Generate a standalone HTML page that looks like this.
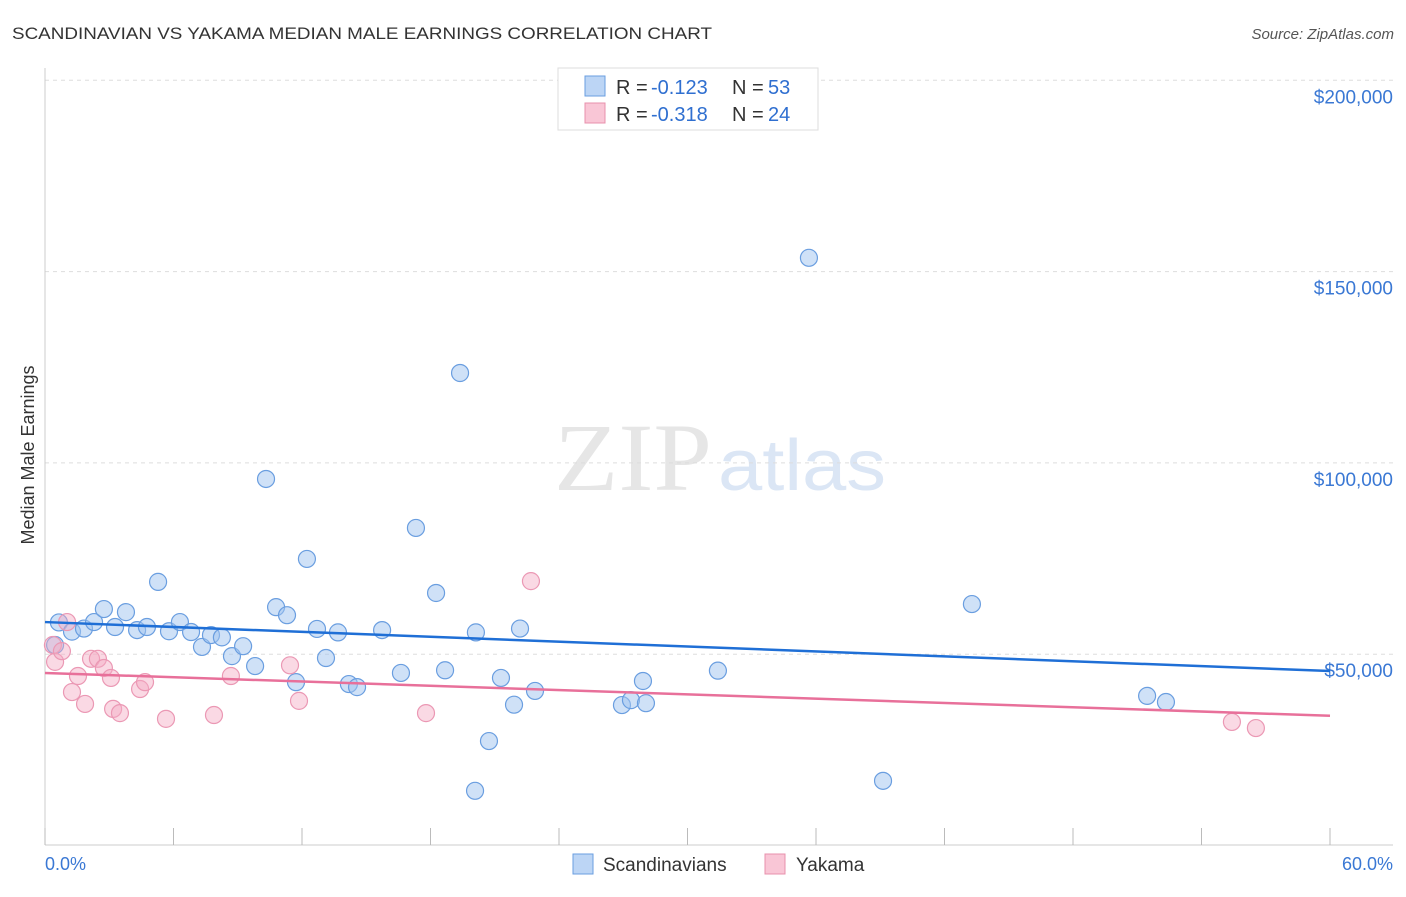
<!DOCTYPE html>
<html><head><meta charset="utf-8"><style>
body{margin:0;background:#fff;font-family:"Liberation Sans",sans-serif;}
</style></head><body>
<svg width="1406" height="892" xmlns="http://www.w3.org/2000/svg">
<text x="12" y="39" font-size="17" fill="#333" textLength="700" lengthAdjust="spacingAndGlyphs">SCANDINAVIAN VS YAKAMA MEDIAN MALE EARNINGS CORRELATION CHART</text>
<text x="1394" y="39" font-size="15" fill="#555" text-anchor="end" font-style="italic">Source: ZipAtlas.com</text>
<text x="554" y="490" font-size="96" fill="#e6e6e6" textLength="158" lengthAdjust="spacingAndGlyphs" font-family="Liberation Serif,serif">ZIP</text>
<text x="718" y="490" font-size="72" fill="#dbe6f5" textLength="168" lengthAdjust="spacingAndGlyphs">atlas</text>
<g id="grid"></g>
<line x1="45" y1="68" x2="45" y2="845" stroke="#ccc"/>
<line x1="45" y1="845" x2="1393" y2="845" stroke="#ccc"/>
<g id="xticks"></g>
<text x="34" y="455" font-size="18" fill="#333" text-anchor="middle" transform="rotate(-90 34 455)">Median Male Earnings</text>
<text x="45" y="870" font-size="18" fill="#3a78d4">0.0%</text>
<text x="1393" y="870" font-size="18" fill="#3a78d4" text-anchor="end">60.0%</text>
<g id="pts"></g>
<g id="lines"></g>
<g>
<rect x="558" y="68" width="260" height="62" fill="#fff" stroke="#ddd"/>
<rect x="585" y="76" width="20" height="20" fill="#bcd5f5" stroke="#6a9ee0"/>
<text x="616" y="94" font-size="20" fill="#333">R =</text>
<text x="651" y="94" font-size="20" fill="#2f6fd0">-0.123</text>
<text x="732" y="94" font-size="20" fill="#333">N =</text>
<text x="768" y="94" font-size="20" fill="#2f6fd0">53</text>
<rect x="585" y="103" width="20" height="20" fill="#f9c6d6" stroke="#e890ac"/>
<text x="616" y="121" font-size="20" fill="#333">R =</text>
<text x="651" y="121" font-size="20" fill="#2f6fd0">-0.318</text>
<text x="732" y="121" font-size="20" fill="#333">N =</text>
<text x="768" y="121" font-size="20" fill="#2f6fd0">24</text>
</g>
<g>
<rect x="573" y="854" width="20" height="20" fill="#bcd5f5" stroke="#6a9ee0"/>
<text x="603" y="871" font-size="19" fill="#333">Scandinavians</text>
<rect x="765" y="854" width="20" height="20" fill="#f9c6d6" stroke="#e890ac"/>
<text x="796" y="871" font-size="19" fill="#333">Yakama</text>
</g>
</svg>
<script>
const yTicks=[50000,100000,150000,200000];
const yTickLabels=["$50,000","$100,000","$150,000","$200,000"];
const xTicks=[0,6,12,18,24,30,36,42,48,54,60];
const blueX=[0.65,1.26,1.82,2.29,2.75,3.27,3.78,4.30,4.76,5.28,5.79,6.30,6.82,7.33,7.75,8.26,8.73,9.25,9.81,10.32,10.79,11.30,11.72,12.23,12.70,13.12,13.68,14.19,14.57,15.74,16.62,17.32,18.26,18.68,19.38,20.12,20.08,20.73,21.29,21.90,22.18,22.88,26.94,27.36,27.92,28.06,31.42,35.67,39.13,43.28,51.46,52.34,0.47];
const blueY=[58300,55900,56700,58400,61800,57100,61000,56300,57100,68900,56000,58400,55800,51900,55000,54400,49500,52100,46900,95800,62300,60200,42700,74900,56600,49000,55700,42200,41400,56300,45100,83000,66000,45800,123500,55700,14300,27300,43800,36800,56700,40400,36700,38000,43000,37200,45700,153600,16900,63100,39100,37500,52400];
const pinkX=[0.37,0.47,0.79,1.03,1.26,1.54,1.87,2.15,2.47,2.75,3.08,3.18,3.50,4.44,4.67,5.65,7.89,8.68,11.44,11.86,17.79,22.69,55.42,56.54];
const pinkY=[52400,48000,50800,58400,40100,44300,37000,48800,48800,46400,43800,35700,34600,40900,42700,33100,34100,44300,47100,37800,34600,69100,32300,30700];
const blueTrend=[58400,45600];
const pinkTrend=[45100,33900];
const NS="http://www.w3.org/2000/svg";
const sx=v=>45+v/60*1285;
const sy=v=>845.5-v/50000*191.3;
function mk(t,a,p){const e=document.createElementNS(NS,t);for(const k in a)e.setAttribute(k,a[k]);p.appendChild(e);return e;}
const grid=document.getElementById('grid');
yTicks.forEach((v,i)=>{
 const l=mk('line',{x1:45,x2:1393,y1:sy(v),y2:sy(v),stroke:'#ddd','stroke-dasharray':'4,4'},grid);
 
 
 const t=mk('text',{x:1393,y:sy(v)+23,'font-size':19,fill:'#3a78d4','text-anchor':'end'},grid);
 t.textContent=yTickLabels[i];
 
 
});
const xt=document.getElementById('xticks');
xTicks.forEach(v=>{
 const l=mk('line',{x1:sx(v),x2:sx(v),y1:828,y2:845,stroke:'#bbb'},xt);
 
 
});
const pts=document.getElementById('pts');
blueX.forEach((x,i)=>{
 const c=mk('circle',{cx:sx(x),cy:sy(blueY[i]),r:8.5,fill:'rgba(160,195,240,0.5)',stroke:'#6a9ee0','stroke-width':1.2},pts);
 
 
});
pinkX.forEach((x,i)=>{
 const c=mk('circle',{cx:sx(x),cy:sy(pinkY[i]),r:8.5,fill:'rgba(245,170,195,0.45)',stroke:'#eb98b4','stroke-width':1.2},pts);
 
 
});
const ln=document.getElementById('lines');
const b=mk('line',{x1:sx(0),x2:sx(60),y1:sy(blueTrend[0]),y2:sy(blueTrend[1]),stroke:'#1f6fd6','stroke-width':2.5},ln);


const p=mk('line',{x1:sx(0),x2:sx(60),y1:sy(pinkTrend[0]),y2:sy(pinkTrend[1]),stroke:'#e8709a','stroke-width':2.5},ln);


</script>
</body></html>
